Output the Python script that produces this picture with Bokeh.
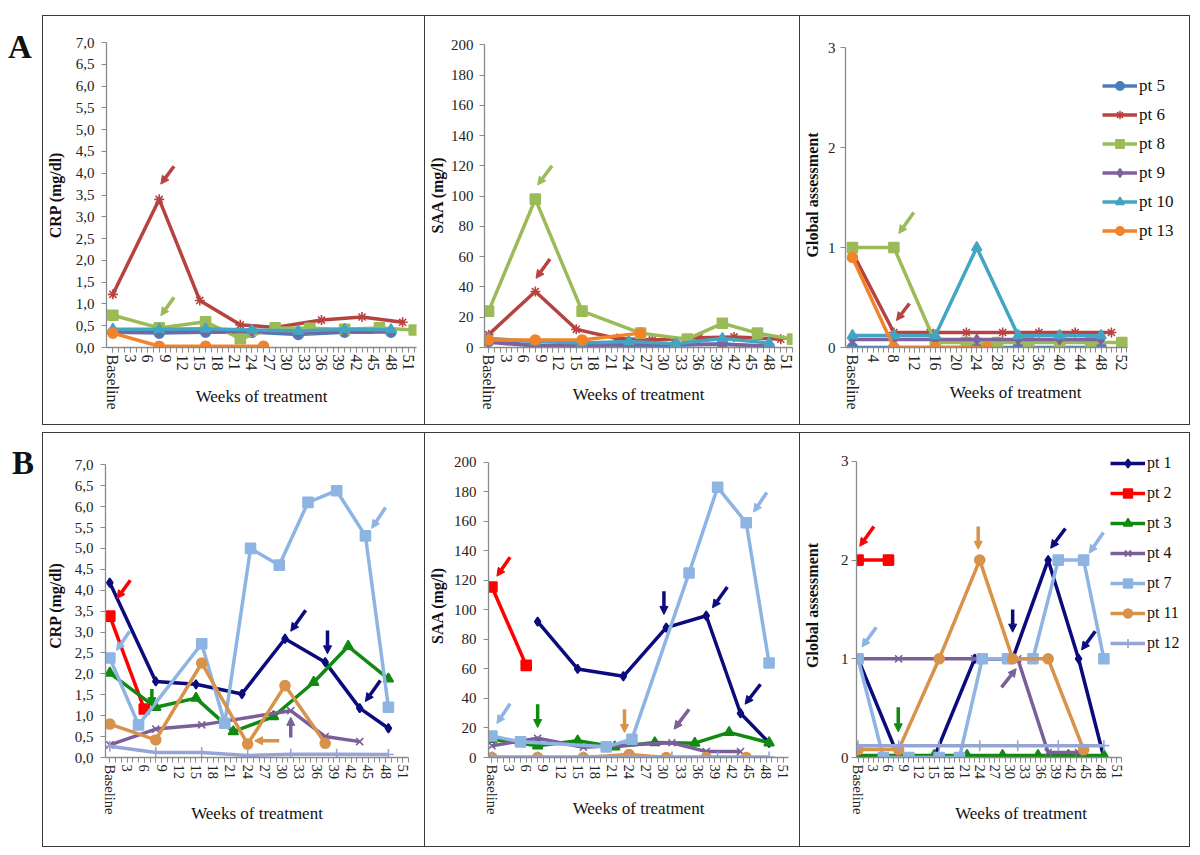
from bokeh.plotting import figure
from bokeh.layouts import row, column
from bokeh.models import (Range1d, FixedTicker, Legend, LegendItem, Arrow, NormalHead,
                          Div, CustomJSTickFormatter)
from bokeh.embed import file_html
from bokeh.resources import INLINE

FONT = "Liberation Serif"

# ------------------------------------------------------------------ data
# weeks of treatment (0 = Baseline) and values, panel A (pt 5, 6, 8, 9, 10, 13)
wk_q8 = [0, 8, 16, 24, 32, 40, 48]

a_crp_wk5 = wk_q8
a_crp_5 = [0.35, 0.33, 0.35, 0.35, 0.30, 0.35, 0.35]
a_crp_wk6 = [0, 8, 15, 22, 28, 36, 43, 50]
a_crp_6 = [1.22, 3.40, 1.08, 0.52, 0.46, 0.63, 0.70, 0.58]
a_crp_wk8 = [0, 8, 16, 22, 28, 34, 40, 46, 52]
a_crp_8 = [0.74, 0.45, 0.59, 0.20, 0.45, 0.44, 0.42, 0.45, 0.40]
a_crp_wk9 = wk_q8
a_crp_9 = [0.38, 0.36, 0.37, 0.37, 0.33, 0.37, 0.37]
a_crp_wk10 = wk_q8
a_crp_10 = [0.42, 0.42, 0.43, 0.40, 0.38, 0.42, 0.41]
a_crp_wk13 = [0, 8, 16, 26]
a_crp_13 = [0.33, 0.03, 0.03, 0.03]

a_saa_wk5 = wk_q8
a_saa_5 = [4.0, 1.5, 1.0, 1.5, 1.5, 2.5, 0.5]
a_saa_wk6 = [0, 8, 15, 22, 28, 36, 42, 50]
a_saa_6 = [8.5, 37, 12, 6, 5, 6.5, 7, 5.5]
a_saa_wk8 = [0, 8, 16, 26, 34, 40, 46, 52]
a_saa_8 = [24, 98, 24, 9.5, 5.5, 16, 9.5, 5.5]
a_saa_wk9 = wk_q8
a_saa_9 = [3.5, 1.0, 1.5, 2.0, 2.0, 2.0, 1.0]
a_saa_wk10 = wk_q8
a_saa_10 = [6, 4, 3, 4, 2.5, 6, 3]
a_saa_wk13 = [0, 8, 16, 26]
a_saa_13 = [5, 5, 5, 9.5]

a_ga_wk5 = wk_q8
a_ga_5 = [0, 0, 0, 0, 0, 0, 0]
a_ga_wk6 = [0, 8, 15, 22, 29, 36, 43, 50]
a_ga_6 = [0.95, 0.15, 0.15, 0.15, 0.15, 0.15, 0.15, 0.15]
a_ga_wk8 = [0, 8, 16, 22, 28, 34, 40, 46, 52]
a_ga_8 = [1, 1, 0.05, 0.05, 0.05, 0.05, 0.05, 0.05, 0.05]
a_ga_wk9 = wk_q8
a_ga_9 = [0.08, 0.08, 0.08, 0.08, 0.08, 0.08, 0.08]
a_ga_wk10 = wk_q8
a_ga_10 = [0.12, 0.12, 0.12, 1.0, 0.12, 0.12, 0.12]
a_ga_wk13 = [0, 8, 16, 26]
a_ga_13 = [0.9, 0, 0, 0]

# panel B (pt 1, 2, 3, 4, 7, 11, 12)
b_wk1 = [0, 8, 15, 23, 30.5, 37.5, 43.5, 48.5]
b_wk2 = [0, 6]
b_wk3 = [0, 8, 15, 21.5, 28.5, 35.5, 41.5, 48.5]
b_wk4 = [0, 8, 16, 31.5, 37.5, 43.5]
b_wk11 = [0, 8, 16, 24, 30.5, 37.5, 44.5]
b_wk12 = [0, 8, 16, 24, 31.5, 39.5, 48.5]

b_crp_1 = [4.18, 1.82, 1.75, 1.52, 2.84, 2.28, 1.18, 0.70]
b_crp_2 = [3.38, 1.16]
b_crp_3 = [2.02, 1.20, 1.42, 0.62, 0.98, 1.80, 2.66, 1.88]
b_crp_4 = [0.30, 0.68, 0.78, 1.12, 0.50, 0.38]
b_crp_wk7 = [0, 5, 16, 20, 24.5, 29.5, 34.5, 39.5, 44.5, 48.5]
b_crp_7 = [2.38, 0.78, 2.72, 0.82, 5.0, 4.6, 6.1, 6.38, 5.3, 1.2]
b_crp_wk11 = [0, 8, 16, 24, 30.5, 37.5]
b_crp_11 = [0.80, 0.42, 2.26, 0.32, 1.72, 0.34]
b_crp_12 = [0.27, 0.12, 0.12, 0.05, 0.08, 0.08, 0.07]

b_saa_wk1 = [8, 15, 23, 30.5, 37.5, 43.5, 48.5]
b_saa_1 = [92, 60, 55, 88, 96, 30, 10]
b_saa_2 = [115.5, 62.4]
b_saa_3 = [12.4, 8, 11.3, 7.2, 10.1, 9.7, 17, 10]
b_saa_4 = [8, 13, 7, 10, 4, 4]
b_saa_wk7 = [0, 5, 20, 24.5, 34.5, 39.5, 44.5, 48.5]
b_saa_7 = [14.6, 10.6, 7.2, 12.4, 125, 183, 159, 64]
b_saa_11 = [0, 0, 0, 2, 0, 0, 0]
b_saa_12 = [0.3, 0.3, 0.3, 0.3, 0.3, 0.3, 0.3]

b_ga_1 = [1, 0, 0, 1, 1, 2, 1, 0]
b_ga_2 = [2, 2]
b_ga_3 = [0.02, 0.02, 0.02, 0.02, 0.02, 0.02, 0.02, 0.02]
b_ga_wk4 = [0, 8, 16, 23, 31.5, 37.5, 43.5]
b_ga_4 = [1, 1, 1, 1, 1, 0.05, 0.05]
b_ga_wk7 = [0, 5, 10, 16, 20, 24.5, 29.5, 34.5, 39.5, 44.5, 48.5]
b_ga_7 = [1, 0, 0, 0, 0, 1, 1, 1, 2, 2, 1]
b_ga_11 = [0.08, 0.08, 1, 2, 1, 1, 0.08]
b_ga_12 = [0.12, 0.12, 0.12, 0.12, 0.12, 0.12, 0.12]

# series styles
A_names = ["pt 5", "pt 6", "pt 8", "pt 9", "pt 10", "pt 13"]
A_colors = ["#4A7EBB", "#B8423F", "#9BBB59", "#7F61A0", "#42A5C2", "#F2832B"]
A_markers = ["circle", "asterisk", "square", "diamond", "triangle", "circle"]
B_names = ["pt 1", "pt 2", "pt 3", "pt 4", "pt 7", "pt 11", "pt 12"]
B_colors = ["#0B0B7E", "#FF0000", "#108A10", "#7A5F9A", "#8DB4E2", "#D8924A", "#97A5D6"]
B_markers = ["diamond", "square", "triangle", "x", "square", "circle", "cross"]

# annotation arrows (x0, y0, x1, y1, colour index)
A_crp_arrows = [(10.55, 4.16, 8.27, 3.75, 1), (10.55, 1.15, 8.27, 0.73, 2)]
A_saa_arrows = [(10.85, 120.1, 8.41, 107.4, 2), (10.5, 58.5, 8.12, 45.7, 1)]
A_ga_arrows = [(11.84, 1.35, 8.96, 1.14, 2), (11.0, 0.44, 8.5, 0.27, 1)]
B_crp_arrows = [(3.58, 4.24, 1.26, 3.80, 1), (3.46, 3.02, 1.16, 2.56, 4),
                (7.32, 1.64, 7.32, 1.24, 2), (29.5, 0.40, 25.2, 0.40, 5),
                (31.5, 0.48, 31.5, 0.96, 3), (34.1, 3.52, 31.5, 3.02, 0),
                (37.9, 3.04, 37.9, 2.48, 0), (47.1, 1.84, 44.5, 1.34, 0),
                (48.0, 5.98, 45.6, 5.48, 4)]
B_saa_arrows = [(3.18, 135.6, 0.87, 122.8, 1), (3.18, 36.5, 0.87, 23.0, 4),
                (8.0, 36.1, 8.0, 20.3, 2), (23.2, 32.7, 23.2, 16.9, 5),
                (34.5, 32.7, 31.9, 19.2, 3), (30.1, 112.6, 30.1, 96.9, 0),
                (41.2, 115.5, 38.6, 101.4, 0), (47.0, 49.6, 44.3, 36.1, 0),
                (48.1, 179.5, 45.8, 166.2, 4)]
B_ga_arrows = [(3.12, 2.34, 0.33, 2.14, 1), (3.59, 1.32, 0.78, 1.12, 4),
               (7.93, 0.51, 7.93, 0.26, 2), (23.7, 2.34, 23.7, 2.11, 5),
               (30.5, 1.50, 30.5, 1.27, 0), (28.3, 0.71, 31.2, 0.90, 3),
               (40.9, 2.32, 38.0, 2.12, 0), (48.4, 2.28, 45.6, 2.07, 4),
               (46.8, 1.28, 44.1, 1.09, 0)]


# ------------------------------------------------------------------ helpers
def make_panel(w, h, left, right, top, bottom, xr, xb, yr, yb, xticks, yticks, comma,
               ytitle, y_lab_so, y_title_so, x_title_so, xfs, first):
    border = {"border": "1px solid #3a3a3a", "box-sizing": "border-box"}
    if not first:
        border["border-left"] = "none"
    p = figure(width=w, height=h, output_backend="svg", toolbar_location=None,
               x_range=Range1d(*xr), y_range=Range1d(*yr),
               min_border_left=left, min_border_right=right,
               min_border_top=top, min_border_bottom=bottom,
               outline_line_color=None, background_fill_color="white",
               border_fill_color="white", margin=0, styles=border)
    p.grid.visible = False
    xa = p.xaxis[0]
    xa.bounds = xb
    xa.ticker = FixedTicker(ticks=xticks, minor_ticks=list(range(0, int(xb[1]) + 1)))
    xa.formatter = CustomJSTickFormatter(code="return tick == 0 ? 'Baseline' : String(tick);")
    xa.major_label_orientation = "vertical"
    xa.major_label_text_font_size = xfs
    xa.axis_label = "Weeks of treatment"
    xa.axis_label_text_font_style = "normal"
    xa.axis_label_text_font_size = "17px"
    xa.axis_label_standoff = x_title_so
    xa.major_label_standoff = 2
    ya = p.yaxis[0]
    ya.bounds = yb
    ya.ticker = FixedTicker(ticks=yticks, minor_ticks=[])
    if comma:
        ya.formatter = CustomJSTickFormatter(code="return tick.toFixed(1).replace('.', ',');")
    else:
        ya.formatter = CustomJSTickFormatter(code="return String(tick);")
    ya.major_label_text_font_size = "15px"
    ya.axis_label = ytitle
    ya.axis_label_text_font_style = "bold"
    ya.axis_label_text_font_size = "16px"
    ya.axis_label_standoff = y_title_so
    ya.major_label_standoff = y_lab_so
    for ax in (xa, ya):
        ax.axis_label_text_font = FONT
        ax.axis_label_text_color = "#111111"
        ax.axis_line_color = "#8a8a8a"
        ax.axis_line_width = 1.3
        ax.major_tick_line_color = "#8a8a8a"
        ax.minor_tick_line_color = "#8a8a8a"
        ax.major_tick_in = 0
        ax.major_tick_out = 5
        ax.minor_tick_in = 0
        ax.minor_tick_out = 5
        ax.major_label_text_font = FONT
        ax.major_label_text_color = "#222222"
    return p


def add_series(p, weeks, vals, color, marker, size=10):
    ln = p.line(weeks, vals, line_color=color, line_width=3.5)
    sc = p.scatter(weeks, vals, marker=marker, size=size, fill_color=color,
                   line_color=color, line_width=1.6)
    return [ln, sc]


def add_arrows(p, arrows, colors):
    for (x0, y0, x1, y1, ci) in arrows:
        c = colors[ci]
        p.add_layout(Arrow(x_start=x0, y_start=y0, x_end=x1, y_end=y1,
                           line_color=c, line_width=3.5,
                           end=NormalHead(size=8, fill_color=c, line_color=c, line_width=1)))


def add_legend(p, names, renderers, loc, row_h, spacing, fs):
    items = [LegendItem(label=n, renderers=r) for n, r in zip(names, renderers)]
    leg = Legend(items=items, location=loc, glyph_width=35, glyph_height=row_h,
                 label_height=row_h, spacing=spacing, padding=0, margin=0,
                 label_standoff=2, border_line_color=None, background_fill_alpha=0,
                 label_text_font=FONT, label_text_font_size=fs,
                 label_text_color="#111111")
    p.add_layout(leg)


crp_ticks = [i * 0.5 for i in range(15)]
saa_ticks = list(range(0, 201, 20))
ga_ticks = [0, 1, 2, 3]
x3 = list(range(0, 52, 3))
x4 = list(range(0, 53, 4))

# ------------------------------------------------------------------ panel A
# the three panels share frame top/bottom (row alignment); axis bounds place the ticks
pA1 = make_panel(383, 410, 60, 10, 26, 79, (-1.1, 52.4), (-1.1, 52.4), (0, 7.0), (0, 7),
                 x3, crp_ticks, True, "CRP (mg/dl)", 7, 9, -26, "16px", True)
pA2 = make_panel(375, 410, 58, 8, 26, 79, (-0.7, 52.0), (-0.7, 52.0), (0, 201.5), (0, 200),
                 x3, saa_ticks, False, "SAA (mg/l)", 6, 2, -28, "16px", False)
pA3 = make_panel(390, 410, 43, 5, 26, 79, (-1.34, 64.3), (-1.34, 53.1), (0, 3.05), (0, 3),
                 x4, ga_ticks, False, "Global assessment", 5, 4, -30, "16px", False)

A_crp = [(a_crp_wk5, a_crp_5), (a_crp_wk6, a_crp_6), (a_crp_wk8, a_crp_8),
         (a_crp_wk9, a_crp_9), (a_crp_wk10, a_crp_10), (a_crp_wk13, a_crp_13)]
A_saa = [(a_saa_wk5, a_saa_5), (a_saa_wk6, a_saa_6), (a_saa_wk8, a_saa_8),
         (a_saa_wk9, a_saa_9), (a_saa_wk10, a_saa_10), (a_saa_wk13, a_saa_13)]
A_ga = [(a_ga_wk5, a_ga_5), (a_ga_wk6, a_ga_6), (a_ga_wk8, a_ga_8),
        (a_ga_wk9, a_ga_9), (a_ga_wk10, a_ga_10), (a_ga_wk13, a_ga_13)]

for p, data in ((pA1, A_crp), (pA2, A_saa)):
    for i, (wk, v) in enumerate(data):
        add_series(p, wk, v, A_colors[i], A_markers[i])
rA = []
for i, (wk, v) in enumerate(A_ga):
    rA.append(add_series(pA3, wk, v, A_colors[i], A_markers[i]))

add_arrows(pA1, A_crp_arrows, A_colors)
add_arrows(pA2, A_saa_arrows, A_colors)
add_arrows(pA3, A_ga_arrows, A_colors)
add_legend(pA3, A_names, rA, (257, 106), 21, 8, "17px")

# ------------------------------------------------------------------ panel B
pB1 = make_panel(383, 415, 60, 18, 20, 91, (-0.75, 52.0), (-0.75, 52.0), (0, 7.27), (0, 7),
                 x3, crp_ticks, True, "CRP (mg/dl)", 7, 8, -13, "14.5px", True)
pB2 = make_panel(375, 415, 62, 12, 20, 91, (-0.6, 51.9), (-0.6, 51.9), (0, 205.9), (0, 200),
                 x3, saa_ticks, False, "SAA (mg/l)", 7, 5, -18, "14.5px", False)
pB3 = make_panel(390, 415, 52, 5, 20, 91, (-0.31, 64.6), (-0.31, 52.0), (0, 3.08), (0, 3),
                 x3, ga_ticks, False, "Global assessment", 3, 17, -13, "14.5px", False)

B_crp = [(b_wk1, b_crp_1), (b_wk2, b_crp_2), (b_wk3, b_crp_3), (b_wk4, b_crp_4),
         (b_crp_wk7, b_crp_7), (b_crp_wk11, b_crp_11), (b_wk12, b_crp_12)]
B_saa = [(b_saa_wk1, b_saa_1), (b_wk2, b_saa_2), (b_wk3, b_saa_3), (b_wk4, b_saa_4),
         (b_saa_wk7, b_saa_7), (b_wk11, b_saa_11), (b_wk12, b_saa_12)]
B_ga = [(b_wk1, b_ga_1), (b_wk2, b_ga_2), (b_wk3, b_ga_3), (b_ga_wk4, b_ga_4),
        (b_ga_wk7, b_ga_7), (b_wk11, b_ga_11), (b_wk12, b_ga_12)]

B_sizes = [9, 10, 10, 10, 10, 10, 11]
for p, data in ((pB1, B_crp), (pB2, B_saa)):
    for i, (wk, v) in enumerate(data):
        add_series(p, wk, v, B_colors[i], B_markers[i], B_sizes[i])
rB = []
for i, (wk, v) in enumerate(B_ga):
    rB.append(add_series(pB3, wk, v, B_colors[i], B_markers[i], B_sizes[i]))

add_arrows(pB1, B_crp_arrows, B_colors)
add_arrows(pB2, B_saa_arrows, B_colors)
add_arrows(pB3, B_ga_arrows, B_colors)
add_legend(pB3, B_names, rB, (254, 103), 22, 8, "16px")

# ------------------------------------------------------------------ layout
lab_style = ("font-family:'Liberation Serif';font-weight:bold;font-size:33px;"
             "color:#111;line-height:38px;")
divA = Div(text=f'<div style="{lab_style}padding-top:13px;">A</div>',
           width=34, height=410, margin=0)
divB = Div(text=f'<div style="{lab_style}padding-top:12px;padding-left:4px;">B</div>',
           width=34, height=415, margin=0)
gap_top = Div(text="", width=1180, height=7, margin=0)
gap_mid = Div(text="", width=1180, height=7, margin=0)

page = column(gap_top, row(divA, pA1, pA2, pA3, margin=0), gap_mid,
              row(divB, pB1, pB2, pB3, margin=0), margin=(8, 0, 0, 8))

open("out.html", "w").write(file_html(page, INLINE))
